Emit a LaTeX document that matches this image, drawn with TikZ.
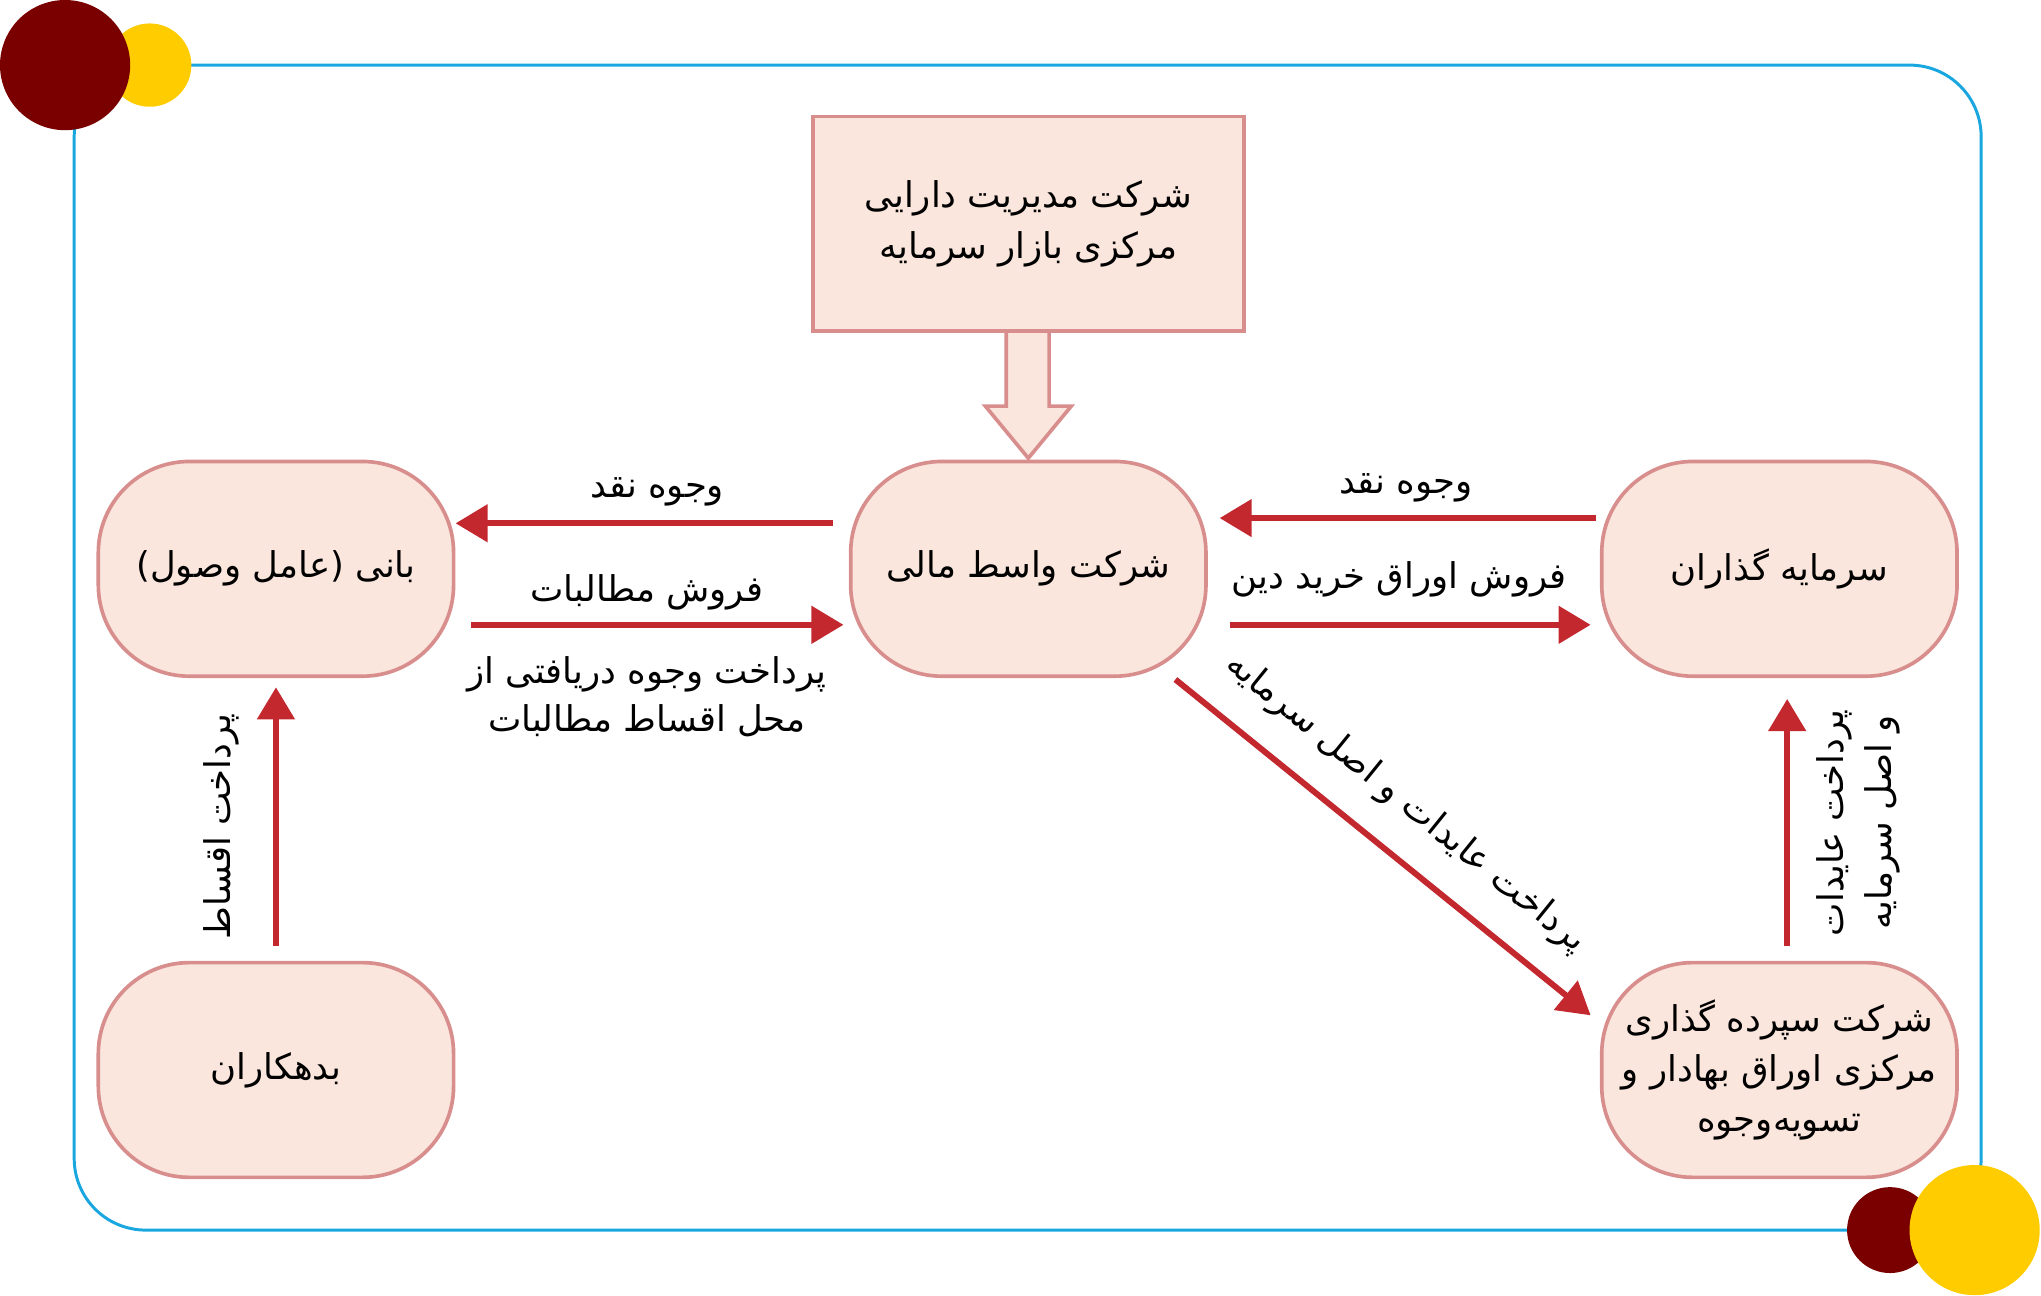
\documentclass[tikz,border=0pt]{standalone}
\usepackage{fontspec}
\newfontfamily\arabicfont[Script=Arabic]{DejaVu Sans}
\TeXXeTstate=1
\usetikzlibrary{shapes.geometric,arrows.meta}
\definecolor{peach}{HTML}{FAE6DC}
\definecolor{rosy}{HTML}{D98E8E}
\definecolor{flow}{HTML}{C3282E}
\definecolor{frame}{HTML}{1AA7E0}
\definecolor{maroon}{HTML}{7A0000}
\definecolor{gold}{HTML}{FFCC00}
\newcommand{\fa}[1]{\arabicfont\beginR #1\endR}
\tikzset{
    party/.style={draw=rosy,fill=peach,line width=1.6pt,rounded corners=1.4cm,
        minimum width=5.46cm,minimum height=3.3cm,align=center,
        font=\fontsize{15.5}{22}\selectfont},
    flowarrow/.style={draw=flow,line width=2.6pt,-{Triangle[length=14pt,width=16pt]}},
    flowlabel/.style={font=\fontsize{15.5}{21}\selectfont,align=center,inner sep=2pt}
}
\begin{document}
\begin{tikzpicture}[x=0.02cm,y=-0.02cm]
    \useasboundingbox (0,0) rectangle (1568,995);
    % frame and corner dots
    \draw[frame,line width=1.3pt,rounded corners=1.1cm] (57,50) rectangle (1522,945);
    \fill[gold] (115,50) circle[radius=32];
    \fill[maroon] (50,50) circle[radius=50];
    \fill[maroon] (1452,945) circle[radius=33];
    \fill[gold] (1517,945) circle[radius=50];
    % parties
    \node[draw=rosy,fill=peach,line width=1.6pt,minimum width=6.62cm,minimum height=3.3cm,
        align=center,font=\fontsize{15.5}{22}\selectfont] (amc) at (790,172)
        {\fa{شرکت مدیریت دارایی}\\\fa{مرکزی بازار سرمایه}};
    \node[party] (spv) at (790,437) {\fa{شرکت واسط مالی}};
    \node[party] (bani) at (212,437) {\fa{بانی (عامل وصول)}};
    \node[party] (inv) at (1367,437) {\fa{سرمایه گذاران}};
    \node[party] (debt) at (212,822) {\fa{بدهکاران}};
    \node[party] (csd) at (1367,822) {\fa{شرکت سپرده گذاری}\\\fa{مرکزی اوراق بهادار و}\\\fa{تسویه‌وجوه}};
    % hollow arrow from the top box
    \draw[draw=rosy,fill=peach,line width=1.6pt] (773,256) -- (773,312) -- (757,312)
        -- (790,352) -- (823,312) -- (806,312) -- (806,256);
    % flow points
    \coordinate (s1) at (640,402); \coordinate (e1) at (350,402);
    \coordinate (s2) at (362,480); \coordinate (e2) at (648,480);
    \coordinate (s3) at (1226,398); \coordinate (e3) at (937,398);
    \coordinate (s4) at (945,480); \coordinate (e4) at (1222,480);
    \coordinate (s5) at (903,522); \coordinate (e5) at (1222,780);
    \coordinate (s6) at (212,727); \coordinate (e6) at (212,528);
    \coordinate (s7) at (1373,727); \coordinate (e7) at (1373,537);
    \draw[flowarrow] (s1) -- (e1);
    \draw[flowarrow] (s2) -- (e2);
    \draw[flowarrow] (s3) -- (e3);
    \draw[flowarrow] (s4) -- (e4);
    \draw[flowarrow] (s5) -- (e5);
    \draw[flowarrow] (s6) -- (e6);
    \draw[flowarrow] (s7) -- (e7);
    % labels
    \node[flowlabel] (l1) at (505,378) {\fa{وجوه نقد}};
    \node[flowlabel] (l2) at (497,455) {\fa{فروش مطالبات}};
    \node[flowlabel] (l2b) at (497,535) {\fa{پرداخت وجوه دریافتی از}\\\fa{محل اقساط مطالبات}};
    \node[flowlabel] (l3) at (1080,375) {\fa{وجوه نقد}};
    \node[flowlabel] (l4) at (1075,445) {\fa{فروش اوراق خرید دین}};
    \node[flowlabel,rotate=-39] (l5) at (1080,617) {\fa{پرداخت عایدات و اصل سرمایه}};
    \node[flowlabel,rotate=90] (l6) at (170,635) {\fa{پرداخت اقساط}};
    \node[flowlabel,rotate=90] (l7) at (1428,632) {\fa{پرداخت عایدات}\\\fa{و اصل سرمایه}};
\end{tikzpicture}
\end{document}
